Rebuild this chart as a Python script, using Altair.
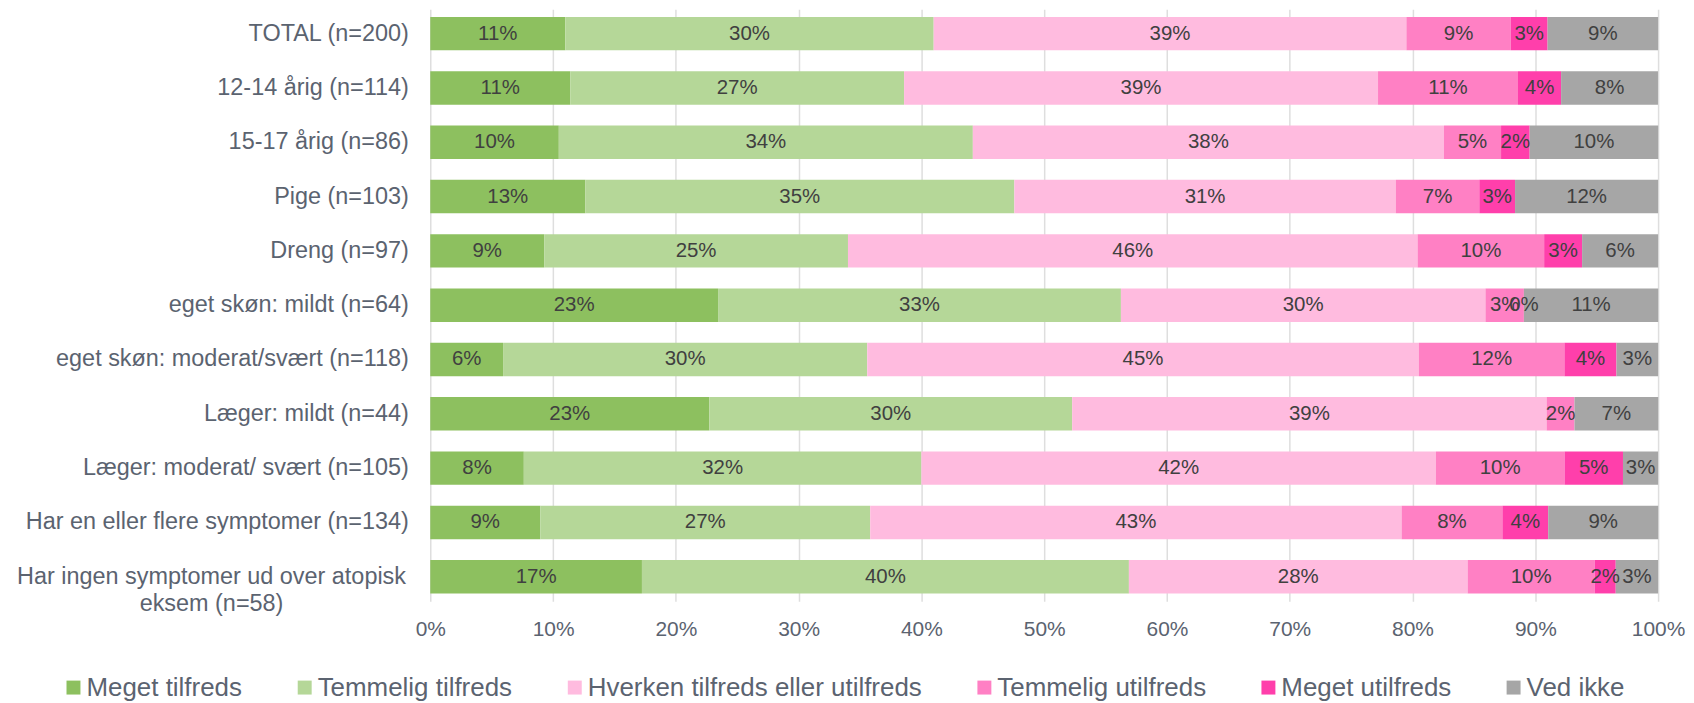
import altair as alt
import pandas as pd

groups = [
    "TOTAL (n=200)",
    "12-14 årig (n=114)",
    "15-17 årig (n=86)",
    "Pige (n=103)",
    "Dreng (n=97)",
    "eget skøn: mildt (n=64)",
    "eget skøn: moderat/svært (n=118)",
    "Læger: mildt (n=44)",
    "Læger: moderat/ svært (n=105)",
    "Har en eller flere symptomer (n=134)",
    "Har ingen symptomer ud over atopisk\neksem (n=58)",
]

series = [
    "Meget tilfreds",
    "Temmelig tilfreds",
    "Hverken tilfreds eller utilfreds",
    "Temmelig utilfreds",
    "Meget utilfreds",
    "Ved ikke",
]
colors = ["#8DC05F", "#B5D798", "#FFBBDF", "#FF80C4", "#FF3FAB", "#A6A6A6"]

meget_tilfreds = [11.00, 11.40, 10.47, 12.62, 9.28, 23.44, 5.93, 22.73, 7.62, 8.96, 17.24]
temmelig_tilfreds = [30.00, 27.19, 33.72, 34.95, 24.74, 32.81, 29.66, 29.55, 32.38, 26.87, 39.66]
hverken = [38.50, 38.60, 38.37, 31.07, 46.39, 29.69, 44.92, 38.64, 41.90, 43.28, 27.59]
temmelig_utilfreds = [8.50, 11.40, 4.65, 6.80, 10.31, 3.13, 11.86, 2.27, 10.48, 8.21, 10.34]
meget_utilfreds = [3.00, 3.51, 2.33, 2.91, 3.09, 0.00, 4.24, None, 4.76, 3.73, 1.72]
ved_ikke = [9.00, 7.89, 10.47, 11.65, 6.19, 10.94, 3.39, 6.82, 2.86, 8.96, 3.45]

tick_values = [0, 10, 20, 30, 40, 50, 60, 70, 80, 90, 100]

all_series = [meget_tilfreds, temmelig_tilfreds, hverken, temmelig_utilfreds, meget_utilfreds, ved_ikke]
rows = []
for si, (name, vals) in enumerate(zip(series, all_series)):
    for g, v in zip(groups, vals):
        if v is None:
            continue
        rows.append({"group": g, "series": name, "order": si, "value": v})
df = pd.DataFrame(rows)

FONT = "Liberation Sans"
AXIS_COLOR = "#5B6370"

y_enc = alt.Y(
    "group:N",
    sort=groups,
    title=None,
    scale=alt.Scale(paddingInner=0.384, paddingOuter=0.142),
    axis=alt.Axis(
        domain=False,
        ticks=False,
        tickSize=0,
        labelFontSize=23.5,
        labelColor=AXIS_COLOR,
        labelFont=FONT,
        labelLimit=600,
        labelLineHeight=27,
        labelExpr="split(datum.label, '\\n')",
        labelAlign={"condition": {"test": "indexof(datum.value, 'atopisk') >= 0", "value": "center"}, "value": "right"},
        labelPadding={"condition": {"test": "indexof(datum.value, 'atopisk') >= 0", "value": 220}, "value": 22},
    ),
)

base = (
    alt.Chart(df)
    .transform_stack(
        stack="value",
        groupby=["group"],
        as_=["x0", "x1"],
        sort=[alt.SortField("order", order="ascending")],
    )
    .transform_calculate(
        mid="(datum.x0 + datum.x1) / 2",
        label="format(datum.value, '.0f') + '%'",
    )
)

bars = base.mark_bar().encode(
    y=y_enc,
    x=alt.X(
        "x0:Q",
        title=None,
        scale=alt.Scale(domain=[0, 100], nice=False, zero=True),
        axis=alt.Axis(
            values=tick_values,
            labelExpr="datum.value + '%'",
            labelFlush=False,
            labelOverlap=False,
            domain=False,
            ticks=False,
            tickSize=0,
            grid=True,
            gridColor="#DEDEDE",
            gridWidth=1.5,
            labelFontSize=21,
            labelColor=AXIS_COLOR,
            labelFont=FONT,
            labelPadding=17,
        ),
    ),
    x2="x1:Q",
    color=alt.Color(
        "series:N",
        sort=series,
        scale=alt.Scale(domain=series, range=colors),
        legend=alt.Legend(
            title=None,
            orient="none",
            direction="horizontal",
            legendX=-371,
            legendY=667.7,
            symbolType="square",
            symbolSize=196,
            symbolStrokeWidth=0,
            labelFontSize=26,
            labelFont=FONT,
            labelColor=AXIS_COLOR,
            labelOffset=0,
            columnPadding=49,
            labelLimit=600,
        ),
    ),
    order=alt.Order("order:Q"),
)

text = base.mark_text(fontSize=20.5, color="#404040", font=FONT, baseline="middle", align="center").encode(
    y=alt.Y("group:N", sort=groups),
    x=alt.X("mid:Q"),
    text="label:N",
)

chart = (
    alt.layer(bars, text)
    .properties(
        width=1232,
        height=594,
        autosize=alt.AutoSizeParams(type="none"),
        padding={"left": 423.7, "top": 0, "right": 28, "bottom": 101},
    )
    .configure_view(stroke=None)
)

chart.save("out.html", embed_options={"renderer": "svg", "actions": False})
